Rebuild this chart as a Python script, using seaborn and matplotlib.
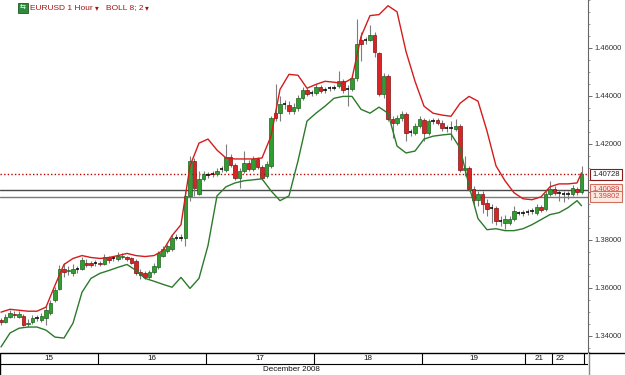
import numpy as np
import pandas as pd
import matplotlib
matplotlib.use("Agg")
import matplotlib.pyplot as plt
import matplotlib.transforms as mtransforms
from matplotlib.lines import Line2D
from matplotlib.patches import Rectangle
import seaborn as sns

# ---------------- data (EURUSD hourly candles) ----------------
opens = [
    1.3465, 1.3456, 1.3477, 1.3490, 1.3477, 1.3481, 1.3448, 1.3456, 1.3473, 1.3465,
    1.3473, 1.3494, 1.3548, 1.3593, 1.3676, 1.3668, 1.3660, 1.3676, 1.3680, 1.3705,
    1.3701, 1.3701, 1.3701, 1.3697, 1.3726, 1.3722, 1.3718, 1.3726, 1.3726, 1.3722,
    1.3710, 1.3664, 1.3660, 1.3643, 1.3664, 1.3685, 1.3734, 1.3755, 1.3763, 1.3809,
    1.3809, 1.3809, 1.3983, 1.4129, 1.3992, 1.4054, 1.4071, 1.4075, 1.4075, 1.4096,
    1.4091, 1.4145, 1.4112, 1.4058, 1.4088, 1.4120, 1.4096, 1.4137, 1.4104, 1.4066,
    1.4108, 1.4328, 1.4328, 1.4365, 1.4361, 1.4336, 1.4349, 1.4390, 1.4423, 1.4411,
    1.4411, 1.4436, 1.4423, 1.4432, 1.4432, 1.4440, 1.4461, 1.4427, 1.4427, 1.4473,
    1.4635, 1.4635, 1.4635, 1.4656, 1.4577, 1.4407, 1.4481, 1.4303, 1.4286, 1.4307,
    1.4324, 1.4249, 1.4245, 1.4274, 1.4299, 1.4245, 1.4295, 1.4299, 1.4286, 1.4266,
    1.4266, 1.4261, 1.4274, 1.4091, 1.4100, 1.4012, 1.3967, 1.3992, 1.3954, 1.3934,
    1.3934, 1.3880, 1.3871, 1.3871, 1.3888, 1.3913, 1.3913, 1.3917, 1.3921, 1.3913,
    1.3938, 1.3929, 1.3992, 1.4012, 1.3996, 1.3992, 1.3992, 1.3992, 1.4012, 1.4000,
]
highs = [
    1.3473, 1.3490, 1.3506, 1.3502, 1.3502, 1.3490, 1.3469, 1.3485, 1.3485, 1.3494,
    1.3523, 1.3548, 1.3602, 1.3693, 1.3705, 1.3689, 1.3697, 1.3689, 1.3726, 1.3718,
    1.3710, 1.3714, 1.3710, 1.3739, 1.3734, 1.3734, 1.3747, 1.3743, 1.3734, 1.3730,
    1.3718, 1.3676, 1.3668, 1.3672, 1.3701, 1.3755, 1.3776, 1.3784, 1.3826, 1.3822,
    1.3826, 1.4004, 1.4149, 1.4141, 1.4088, 1.4088, 1.4083, 1.4088, 1.4100, 1.4108,
    1.4199, 1.4158, 1.4120, 1.4100, 1.4170, 1.4133, 1.4149, 1.4145, 1.4112, 1.4129,
    1.4315, 1.4448, 1.4398, 1.4382, 1.4378, 1.4369, 1.4403, 1.4436, 1.4432, 1.4423,
    1.4448, 1.4444, 1.4436, 1.4440, 1.4444, 1.4502, 1.4469, 1.4444, 1.4486, 1.4722,
    1.4668, 1.4647, 1.4697, 1.4668, 1.4585, 1.4494, 1.4490, 1.4315, 1.4320, 1.4336,
    1.4332, 1.4261, 1.4286, 1.4315, 1.4307, 1.4303, 1.4307, 1.4307, 1.4299, 1.4278,
    1.4295, 1.4303, 1.4282, 1.4149, 1.4108, 1.4025, 1.4004, 1.4004, 1.3971, 1.3950,
    1.3942, 1.3900, 1.3905, 1.3900, 1.3942, 1.3921, 1.3925, 1.3929, 1.3934, 1.3950,
    1.3946, 1.4004, 1.4046, 1.4025, 1.4008, 1.4004, 1.4004, 1.4029, 1.4021, 1.4108,
]
lows = [
    1.3444, 1.3452, 1.3473, 1.3473, 1.3473, 1.3440, 1.3436, 1.3448, 1.3461, 1.3456,
    1.3444, 1.3485, 1.3539, 1.3589, 1.3643, 1.3651, 1.3647, 1.3660, 1.3672, 1.3685,
    1.3685, 1.3689, 1.3689, 1.3693, 1.3705, 1.3710, 1.3710, 1.3718, 1.3710, 1.3697,
    1.3651, 1.3635, 1.3635, 1.3635, 1.3656, 1.3680, 1.3726, 1.3743, 1.3755, 1.3797,
    1.3793, 1.3776, 1.3963, 1.3983, 1.3988, 1.4046, 1.4058, 1.4062, 1.4066, 1.4083,
    1.4083, 1.4104, 1.4050, 1.4017, 1.4079, 1.4088, 1.4088, 1.4096, 1.4050, 1.4058,
    1.4100, 1.4295, 1.4295, 1.4344, 1.4324, 1.4324, 1.4336, 1.4382, 1.4398, 1.4398,
    1.4403, 1.4411, 1.4411, 1.4419, 1.4423, 1.4432, 1.4411, 1.4357, 1.4419, 1.4461,
    1.4544, 1.4618, 1.4627, 1.4564, 1.4398, 1.4390, 1.4295, 1.4224, 1.4278, 1.4295,
    1.4212, 1.4232, 1.4237, 1.4266, 1.4212, 1.4237, 1.4282, 1.4278, 1.4253, 1.4249,
    1.4216, 1.4253, 1.4083, 1.4066, 1.4004, 1.3950, 1.3942, 1.3913, 1.3900, 1.3871,
    1.3863, 1.3859, 1.3846, 1.3863, 1.3880, 1.3905, 1.3900, 1.3905, 1.3909, 1.3905,
    1.3917, 1.3921, 1.3983, 1.3988, 1.3963, 1.3958, 1.3971, 1.3983, 1.3988, 1.3992,
]
closes = [
    1.3456, 1.3477, 1.3494, 1.3485, 1.3490, 1.3444, 1.3452, 1.3473, 1.3473, 1.3481,
    1.3506, 1.3535, 1.3589, 1.3680, 1.3664, 1.3672, 1.3680, 1.3676, 1.3714, 1.3693,
    1.3693, 1.3701, 1.3697, 1.3726, 1.3714, 1.3722, 1.3734, 1.3734, 1.3718, 1.3705,
    1.3660, 1.3651, 1.3643, 1.3664, 1.3689, 1.3743, 1.3763, 1.3772, 1.3809, 1.3809,
    1.3809, 1.3983, 1.4129, 1.4017, 1.4054, 1.4075, 1.4071, 1.4075, 1.4088, 1.4096,
    1.4145, 1.4112, 1.4058, 1.4088, 1.4120, 1.4096, 1.4137, 1.4104, 1.4058, 1.4116,
    1.4307, 1.4307, 1.4365, 1.4365, 1.4336, 1.4353, 1.4390, 1.4423, 1.4407, 1.4411,
    1.4436, 1.4419, 1.4423, 1.4432, 1.4432, 1.4461, 1.4423, 1.4427, 1.4473, 1.4618,
    1.4618, 1.4635, 1.4656, 1.4585, 1.4407, 1.4481, 1.4303, 1.4286, 1.4307, 1.4324,
    1.4245, 1.4249, 1.4274, 1.4303, 1.4245, 1.4295, 1.4295, 1.4286, 1.4266, 1.4266,
    1.4266, 1.4274, 1.4091, 1.4100, 1.4012, 1.3967, 1.3992, 1.3950, 1.3929, 1.3934,
    1.3880, 1.3880, 1.3888, 1.3888, 1.3921, 1.3913, 1.3913, 1.3917, 1.3921, 1.3938,
    1.3925, 1.3992, 1.4012, 1.3996, 1.3996, 1.3992, 1.3992, 1.4017, 1.4000, 1.4073,
]

# Bollinger band (8; 2) read at every second candle
band_idx = list(range(0, 129, 2)) + [129]
upper_band = [
    1.3498, 1.3510, 1.3506, 1.3502, 1.3502, 1.3519, 1.3610, 1.3697, 1.3722, 1.3734, 1.3726,
    1.3722, 1.3726, 1.3734, 1.3743, 1.3734, 1.3730, 1.3734, 1.3755, 1.3817, 1.3863,
    1.4108, 1.4203, 1.4220, 1.4174, 1.4141, 1.4137, 1.4137, 1.4137, 1.4141, 1.4232,
    1.4427, 1.4490, 1.4486, 1.4432, 1.4448, 1.4461, 1.4457, 1.4452, 1.4473, 1.4647,
    1.4735, 1.4739, 1.4776, 1.4751, 1.4585, 1.4461, 1.4357, 1.4328, 1.4320, 1.4315,
    1.4369, 1.4398, 1.4378, 1.4253, 1.4108, 1.4046, 1.3996, 1.3971, 1.3967, 1.3979,
    1.4021, 1.4033, 1.4033, 1.4037, 1.4079,
]
lower_band = [
    1.3353, 1.3411, 1.3431, 1.3436, 1.3436, 1.3423, 1.3394, 1.3390, 1.3452, 1.3581, 1.3639,
    1.3660, 1.3672, 1.3685, 1.3697, 1.3672, 1.3639, 1.3627, 1.3614, 1.3602, 1.3643,
    1.3597, 1.3639, 1.3776, 1.3983, 1.4021, 1.4037, 1.4046, 1.4050, 1.4054, 1.4004,
    1.3963, 1.3983, 1.4129, 1.4295, 1.4328, 1.4357, 1.4390, 1.4398, 1.4398, 1.4344,
    1.4328, 1.4353, 1.4328, 1.4191, 1.4162, 1.4170, 1.4220, 1.4232, 1.4237, 1.4241,
    1.4183, 1.4025, 1.3888, 1.3842, 1.3846, 1.3838, 1.3838, 1.3846, 1.3863, 1.3884,
    1.3905, 1.3913, 1.3934, 1.3963, 1.3942,
]

price_ticks = [1.34, 1.36, 1.38, 1.40, 1.42, 1.44, 1.46]
last_price = 1.40728
level_a = 1.40089
level_b = 1.39802
day_labels = ["15", "16", "17", "18", "19", "21", "22"]
day_starts = [0, 22, 46, 70, 94, 117, 123]
month_label = "December 2008"
title_symbol = "EURUSD 1 Hour"
title_indicator = "BOLL 8; 2"

# ---------------- styling ----------------
sns.set_theme(style="white")
plt.rcParams["font.family"] = ["Liberation Sans", "DejaVu Sans"]

W, H = 625, 375
fig = plt.figure(figsize=(W / 100, H / 100), dpi=100)
fig.patch.set_facecolor("white")

ax = fig.add_axes([0, 23 / H, 588 / W, 352 / H])
ax.set_facecolor("white")

n = len(closes)
idx = np.arange(n)
o = np.array(opens)
h = np.array(highs)
l = np.array(lows)
c = np.array(closes)

# wicks
ax.vlines(idx, l, h, color="#7d7d7d", lw=0.8, zorder=2)
up = c > o
dn = c < o
eq = c == o
ax.bar(idx[up], (c - o)[up], bottom=o[up], width=0.7, color="#2f9e2f",
       edgecolor="#1f5f1f", linewidth=0.5, zorder=3)
ax.bar(idx[dn], (c - o)[dn], bottom=o[dn], width=0.7, color="#d82424",
       edgecolor="#7a1414", linewidth=0.5, zorder=3)
ax.hlines(c[eq], idx[eq] - 0.36, idx[eq] + 0.36, color="black", lw=1.1, zorder=3)

# Bollinger bands
bands = pd.DataFrame({"i": band_idx, "upper": upper_band, "lower": lower_band})
sns.lineplot(data=bands, x="i", y="upper", color="#d41c1c", lw=1.0, ax=ax, zorder=4)
sns.lineplot(data=bands, x="i", y="lower", color="#2b7a2b", lw=1.0, ax=ax, zorder=4)

# price levels
ax.axhline(last_price, color="#c00000", lw=1.0, ls=(0, (1, 1.6)), zorder=1.8)
ax.axhline(level_a, color="#4a4a4a", lw=1.0, zorder=1.8)
ax.axhline(level_b, color="#7a7a7a", lw=1.0, zorder=1.8)

ax.set_xlim(-0.22, 130.44)
ax.set_ylim(1.333185, 1.479265)
ax.set_xlabel("")
ax.set_ylabel("")
ax.set_xticks([])

ax.yaxis.tick_right()
ax.set_yticks(price_ticks)
ax.set_yticklabels([f"{t:.5f}" for t in price_ticks])
ax.set_yticks(np.arange(1.335, 1.480, 0.005), minor=True)
ax.tick_params(axis="y", which="major", direction="out", length=3, width=0.6,
               color="#555555", labelsize=5.5, labelcolor="#333333", pad=2, right=True)
ax.tick_params(axis="y", which="minor", direction="out", length=1.5, width=0.5,
               color="#777777", right=True)
for side in ["left", "top", "bottom"]:
    ax.spines[side].set_visible(False)
ax.spines["right"].set_visible(True)
ax.spines["right"].set_color("#666666")
ax.spines["right"].set_linewidth(0.8)
ax.spines["right"].set_linestyle((0, (1, 1)))

# price labels on the axis
trans = mtransforms.blended_transform_factory(ax.transAxes, ax.transData)
ax.text(1.0 + 4 / 588, last_price, f"{last_price:.5f}", transform=trans, ha="left",
        va="center", fontsize=5.5, color="#222222", clip_on=False, zorder=6,
        bbox=dict(boxstyle="square,pad=0.3", fc="white", ec="#8b1a1a", lw=0.8))
ax.text(1.0 + 4 / 588, level_a, f"{level_a:.5f}", transform=trans, ha="left",
        va="center", fontsize=5.5, color="#d04040", clip_on=False, zorder=6,
        bbox=dict(boxstyle="square,pad=0.3", fc="#fdebe2", ec="#d07060", lw=0.8))
ax.text(1.0 + 4 / 588, level_b, f"{level_b:.5f}", transform=trans, ha="left",
        va="center", fontsize=5.5, color="#d04040", clip_on=False, zorder=7,
        bbox=dict(boxstyle="square,pad=0.3", fc="#fdebe2", ec="#d07060", lw=0.8))

# ---------------- date strip ----------------
ax2 = fig.add_axes([0, 0, 588 / W, 23 / H])
ax2.set_xlim(ax.get_xlim())
ax2.set_ylim(0, 23)
ax2.set_xticks([])
ax2.set_yticks([])
for s in ax2.spines.values():
    s.set_visible(False)
xl, xr = ax.get_xlim()
bounds = [xl] + [s - 0.5 for s in day_starts[1:]] + [n - 0.5]
ax2.axhline(22.5, color="black", lw=1.0)
ax2.axhline(11.5, color="black", lw=0.8)
ax2.vlines(bounds[1:], 11.5, 22.5, color="black", lw=0.8)
ax2.vlines([xl + 0.1], 0, 22.5, color="black", lw=1.0)
for k, lab in enumerate(day_labels):
    if k == len(day_labels) - 1:
        ax2.text(bounds[k] + 0.7, 17, lab, ha="left", va="center", fontsize=5.8, color="#111111")
    else:
        ax2.text((bounds[k] + bounds[k + 1]) / 2, 17, lab, ha="center", va="center",
                 fontsize=5.8, color="#111111")
ax2.text((xl + bounds[-1]) / 2, 5.5, month_label, ha="center", va="center",
         fontsize=5.8, color="#111111")

fig.add_artist(Line2D([588.5 / W, 588.5 / W], [0, 23 / H], color="#888888", lw=1.0))
fig.add_artist(Line2D([588.5 / W, 1], [22.5 / H, 22.5 / H], color="black", lw=1.0))

# ---------------- title (placed piece after piece) ----------------
fig.add_artist(Rectangle((18 / W, 1 - 13 / H), 10 / W, 10 / H, transform=fig.transFigure,
                         facecolor="#2e8b3e", edgecolor="#1c5a26", lw=0.6))
fig.text(23 / W, 1 - 8 / H, "⇆", color="white", fontsize=5, ha="center", va="center",
         family=["DejaVu Sans"])

renderer = fig.canvas.get_renderer()
pieces = [(title_symbol, 6.0, 2.0), ("▾", 5.5, 7.0), (title_indicator, 6.0, 2.0), ("▾", 5.5, 0.0)]
x_px = 30.0
for txt, fs, gap in pieces:
    fam = ["DejaVu Sans"] if txt == "▾" else ["Liberation Sans", "DejaVu Sans"]
    t = fig.text(x_px / W, 1 - 8 / H, txt, color="#a31515", fontsize=fs, ha="left",
                 va="center", family=fam)
    bb = t.get_window_extent(renderer=renderer)
    x_px = bb.x1 + gap

fig.savefig("out.png", dpi=100, facecolor="white")
